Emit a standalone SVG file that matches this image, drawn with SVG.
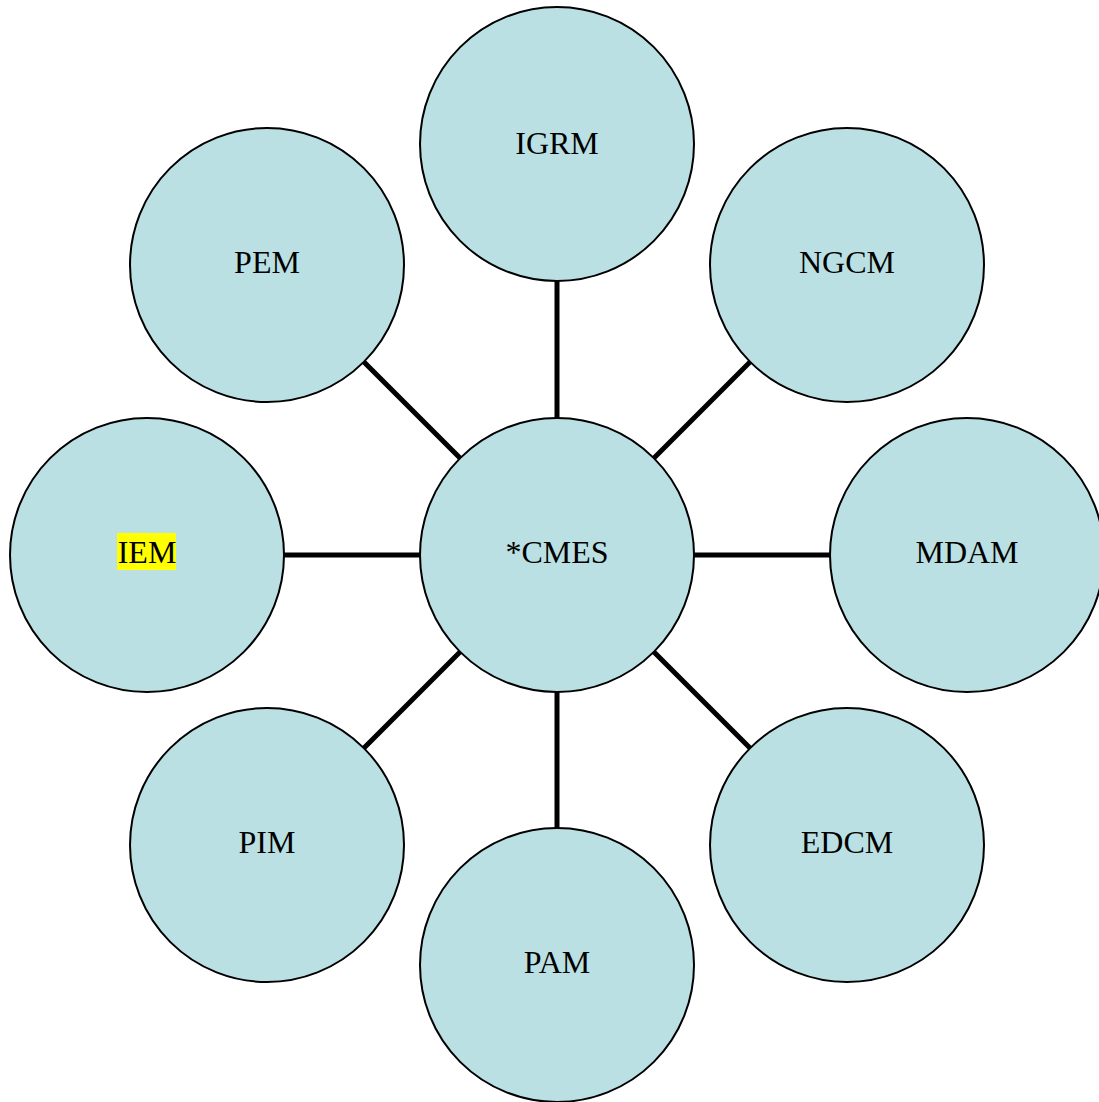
<svg xmlns="http://www.w3.org/2000/svg" width="1099" height="1102" viewBox="0 0 1099 1102">
<style>
.n{fill:#bae0e3;stroke:#000;stroke-width:2}
.t{font-family:"Liberation Serif","Times New Roman",serif;font-size:32px;fill:#000;text-anchor:middle}
.c line{stroke:#000;stroke-width:5}
</style>
<rect width="1099" height="1102" fill="#fff"/>
<g id="connectors" class="c">
<line x1="557" y1="555" x2="557" y2="144"/>
<line x1="557" y1="555" x2="267" y2="265"/>
<line x1="557" y1="555" x2="847" y2="265"/>
<line x1="557" y1="555" x2="147" y2="555"/>
<line x1="557" y1="555" x2="967" y2="555"/>
<line x1="557" y1="555" x2="267" y2="845"/>
<line x1="557" y1="555" x2="847" y2="845"/>
<line x1="557" y1="555" x2="557" y2="965"/>
</g>
<g id="IGRM"><circle class="n" cx="557" cy="144" r="137"/><text class="t" x="557" y="154">IGRM</text></g>
<g id="PEM"><circle class="n" cx="267" cy="265" r="137"/><text class="t" x="267" y="273">PEM</text></g>
<g id="NGCM"><circle class="n" cx="847" cy="265" r="137"/><text class="t" x="847" y="273">NGCM</text></g>
<g id="IEM"><circle class="n" cx="147" cy="555" r="137"/><rect x="117" y="533" width="59" height="37" fill="#ffff00"/><text class="t" x="147" y="563">IEM</text></g>
<g id="CMES"><circle class="n" cx="557" cy="555" r="137"/><text class="t" x="557" y="563">*CMES</text></g>
<g id="MDAM"><circle class="n" cx="967" cy="555" r="137"/><text class="t" x="967" y="563">MDAM</text></g>
<g id="PIM"><circle class="n" cx="267" cy="845" r="137"/><text class="t" x="267" y="853">PIM</text></g>
<g id="EDCM"><circle class="n" cx="847" cy="845" r="137"/><text class="t" x="847" y="853">EDCM</text></g>
<g id="PAM"><circle class="n" cx="557" cy="965" r="137"/><text class="t" x="557" y="973">PAM</text></g>
</svg>
